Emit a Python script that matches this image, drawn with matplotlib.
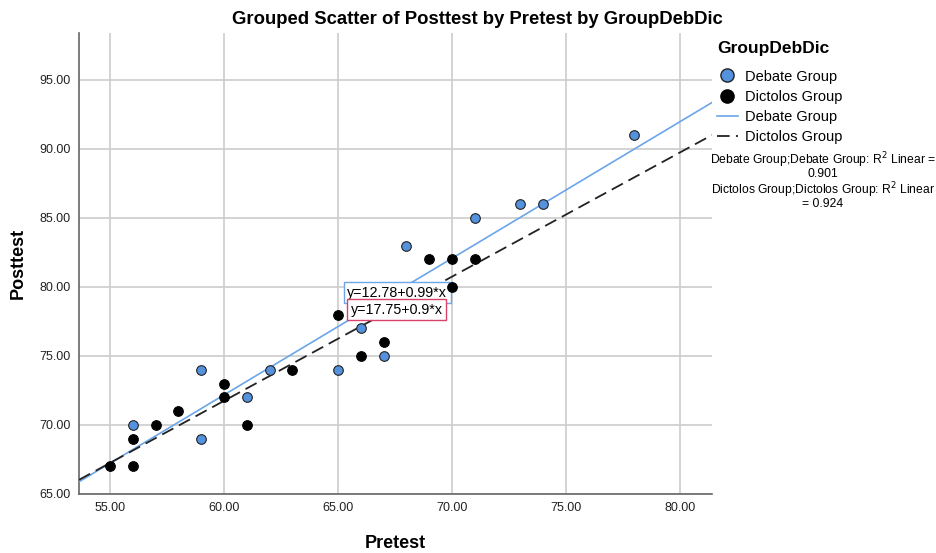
import numpy as np
import matplotlib
matplotlib.use('Agg')
import matplotlib.pyplot as plt
from matplotlib.lines import Line2D

plt.rcParams['font.family'] = ['Liberation Sans', 'DejaVu Sans']

# Debate group
debate_pre = [56, 59, 59, 61, 62, 65, 66, 67, 68, 71, 73, 74, 78]
debate_post = [70, 74, 69, 72, 74, 74, 77, 75, 83, 85, 86, 86, 91]

# Dictolos group
dict_pre = [55, 56, 56, 57, 58, 60, 60, 61, 63, 65, 66, 67, 69, 70, 70, 71]
dict_post = [67, 69, 67, 70, 71, 73, 72, 70, 74, 78, 75, 76, 82, 82, 80, 82]

# fit lines (intercept, slope) and R2
debate_fit = (12.78, 0.99)
dict_fit = (17.75, 0.9)
debate_r2 = 0.901
dict_r2 = 0.924

x_ticks = [55, 60, 65, 70, 75, 80]
y_ticks = [65, 70, 75, 80, 85, 90, 95]

blue = '#5592dd'
line_blue = '#6aa6e8'

fig = plt.figure(figsize=(9.36, 5.53), dpi=100)
ax = fig.add_axes([0.0844, 0.1067, 0.6763, 0.8336])

ax.scatter(debate_pre, debate_post, s=48, c=blue, edgecolors='#222222', linewidths=0.8, zorder=4)
ax.scatter(dict_pre, dict_post, s=48, c='black', edgecolors='black', linewidths=0.8, zorder=4)

xl = (53.64, 81.4)
xs = np.array(xl)
ax.plot(xs, debate_fit[0] + debate_fit[1] * xs, color=line_blue, lw=1.2, zorder=3)
ax.plot(xs, dict_fit[0] + dict_fit[1] * xs, color='#222222', lw=1.3, ls=(0, (7, 3.5)), zorder=3)

ax.set_xlim(*xl)
ax.set_ylim(65, 98.4)
ax.set_xticks(x_ticks)
ax.set_yticks(y_ticks)
ax.set_xticklabels(['%.2f' % v for v in x_ticks], fontsize=9)
ax.set_yticklabels(['%.2f' % v for v in y_ticks], fontsize=9)
ax.grid(True, color='#cccccc', lw=1.2)
ax.set_axisbelow(True)
ax.tick_params(length=0, pad=6, colors='#222222')
for s in ['top', 'right']:
    ax.spines[s].set_visible(False)
for s in ['left', 'bottom']:
    ax.spines[s].set_color('#666666')
    ax.spines[s].set_linewidth(1.2)

ax.set_xlabel('Pretest', fontsize=13, fontweight='bold', labelpad=15)
ax.set_ylabel('Posttest', fontsize=13, fontweight='bold', labelpad=9)
fig.text(0.51, 0.965, 'Grouped Scatter of Posttest by Pretest by GroupDebDic',
         ha='center', va='center', fontsize=13.3, fontweight='bold')

# equation labels
ax.text(65.4, 79.58, 'y=%.2f+%.2f*x' % debate_fit, fontsize=10.3, va='center',
        bbox=dict(boxstyle='square,pad=0.25', fc='white', ec=line_blue, lw=1))
ax.text(65.55, 78.36, 'y=%.2f+%.1f*x' % dict_fit, fontsize=10.3, va='center',
        bbox=dict(boxstyle='square,pad=0.25', fc='white', ec='#d9436a', lw=1))

handles = [
    Line2D([], [], ls='none', marker='o', ms=9.5, mfc=blue, mec='#222222', label='Debate Group'),
    Line2D([], [], ls='none', marker='o', ms=9.5, mfc='black', mec='black', label='Dictolos Group'),
    Line2D([], [], color=line_blue, lw=1.2, label='Debate Group'),
    Line2D([], [], color='#222222', lw=1.3, ls=(0, (7, 3.5)), label='Dictolos Group'),
]
leg = fig.legend(handles=handles, loc='upper left', bbox_to_anchor=(0.760, 0.937),
                 frameon=False, fontsize=10.5, title='GroupDebDic',
                 handlelength=1.4, handletextpad=0.5, labelspacing=0.42,
                 borderaxespad=0, alignment='left')
leg.get_title().set_fontweight('bold')
leg.get_title().set_fontsize(12.5)
leg._legend_box.sep = 10

# R2 annotations, one text per line
r2_lines = [
    ('Debate Group;Debate Group: R$^2$ Linear =', 0.7107),
    ('%.3f' % debate_r2, 0.6854),
    ('Dictolos Group;Dictolos Group: R$^2$ Linear', 0.6564),
    ('= %.3f' % dict_r2, 0.6311),
]
for txt, yy in r2_lines:
    fig.text(0.879, yy, txt, ha='center', va='center', fontsize=8.7)

fig.savefig('out.png', dpi=100)
